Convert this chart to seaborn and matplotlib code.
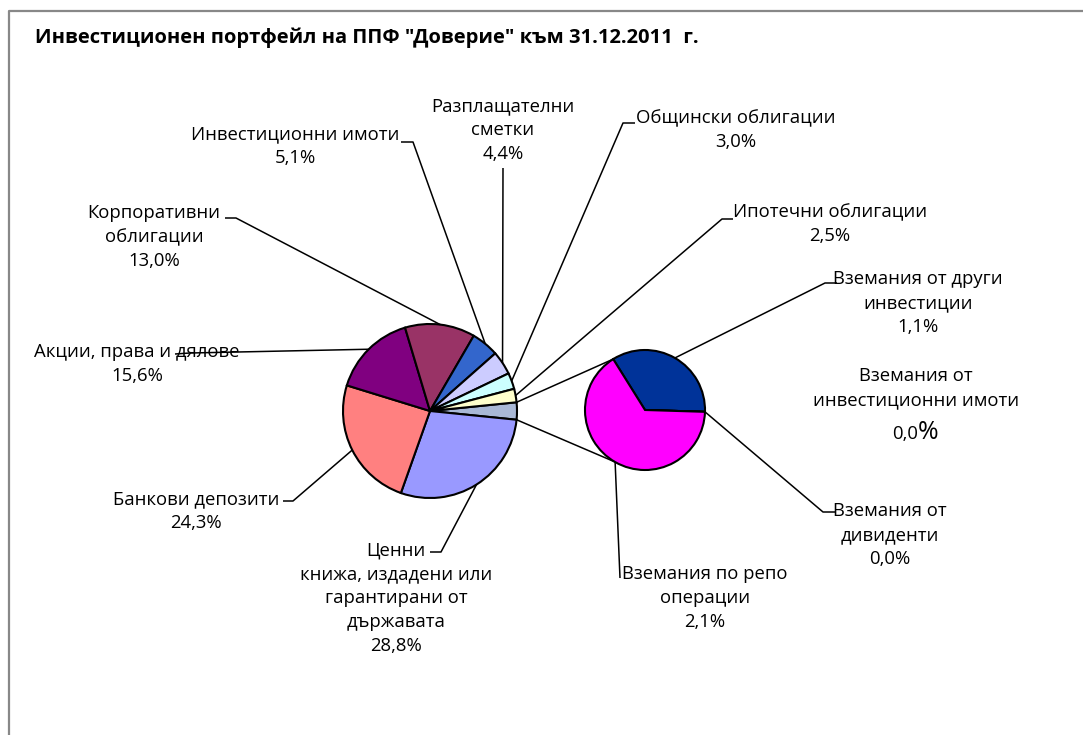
import numpy as np
import matplotlib
matplotlib.use("Agg")
import matplotlib.pyplot as plt
import seaborn as sns

# данни
main_labels = ["Ценни\nкнижа, издадени или\nгарантирани от\nдържавата",
               "Банкови депозити", "Акции, права и дялове",
               "Корпоративни\nоблигации", "Инвестиционни имоти",
               "Разплащателни\nсметки", "Общински облигации",
               "Ипотечни облигации"]
main_values = [28.8, 24.3, 15.6, 13.0, 5.1, 4.4, 3.0, 2.5]
main_colors = ["#9999FF", "#FF8080", "#800080", "#993366", "#3366CC",
               "#CCCCFF", "#CCFFFF", "#FFFFCC"]
other_color = "#A9B8D6"

sub_labels = ["Вземания от други\nинвестиции", "Вземания от\nдивиденти",
              "Вземания от\nинвестиционни имоти", "Вземания по репо\nоперации"]
sub_values = [1.1, 0.0, 0.0, 2.1]
sub_colors = ["#003399", "#FFFFFF", "#FFFFFF", "#FF00FF"]

title = 'Инвестиционен портфейл на ППФ "Доверие" към 31.12.2011  г.'

W, H = 1083, 735
fy = lambda y: H - y  # картинни координати -> оста

sns.set_theme(style="white")
plt.rcParams['font.family'] = ['Open Sans', 'DejaVu Sans']

fig = plt.figure(figsize=(W / 100, H / 100), dpi=100)
ax = fig.add_axes([0, 0, 1, 1])

other = sum(sub_values)
wedge_kw = dict(edgecolor="black", linewidth=1.5)
main_w, _ = ax.pie([other] + main_values, colors=[other_color] + main_colors,
                   startangle=other / 100 * 360 / 2, counterclock=False,
                   center=(430, fy(411)), radius=87, frame=True,
                   wedgeprops=wedge_kw)
sub_start = 122
sub_w, _ = ax.pie(sub_values, colors=sub_colors, startangle=sub_start,
                  counterclock=False, center=(645, fy(410)), radius=60,
                  frame=True, wedgeprops=wedge_kw)


def rim(w, ang=None):
    if ang is None:
        ang = (w.theta1 + w.theta2) / 2
    cx, cy = w.center
    a = np.deg2rad(ang)
    return cx + w.r * np.cos(a), cy + w.r * np.sin(a)


line_kw = dict(color="black", lw=1.1, solid_capstyle="butt")

# свързващи линии между двете кръгчета
ow = main_w[0]
p1 = rim(ow, ow.theta2)
p2 = rim(ow, ow.theta1)
q1 = rim(sub_w[0], sub_start)
q2 = rim(sub_w[0], -120)
ax.plot([p1[0], q1[0]], [p1[1], q1[1]], **line_kw)
ax.plot([p2[0], q2[0]], [p2[1], q2[1]], **line_kw)

# водещи линии (картинни координати на пречупването и края)
main_leaders = [[(441, 552), (430, 552)],
                [(293, 501), (283, 501)],
                [(190, 353), (175, 354)],
                [(236, 218), (225, 218)],
                [(413, 142), (401, 142)],
                [(503, 168)],
                [(623, 123), (635, 123)],
                [(722, 219), (733, 219)]]
sub_leaders = [[(825, 283), (837, 283)],
               [(823, 512), (835, 512)],
               None,
               [(620, 578)]]

for w, pts in zip(main_w[1:], main_leaders):
    x0, y0 = rim(w)
    xs = [x0] + [p[0] for p in pts]
    ys = [y0] + [fy(p[1]) for p in pts]
    ax.plot(xs, ys, **line_kw)
for w, pts in zip(sub_w, sub_leaders):
    if pts is None:
        continue
    x0, y0 = rim(w)
    xs = [x0] + [p[0] for p in pts]
    ys = [y0] + [fy(p[1]) for p in pts]
    ax.plot(xs, ys, **line_kw)

# етикети
fs = 13.3
ls = 1.42
main_pos = [(396, 598), (196, 511), (137, 364), (154, 237), (295, 146),
            (503, 130), (736, 130), (830, 224)]
for lab, v, (x, y) in zip(main_labels, main_values, main_pos):
    ax.text(x, fy(y), f"{lab}\n{v:.1f}%".replace(".", ","), ha="center",
            va="center", fontsize=fs, linespacing=ls, color="black")

sub_pos = [(918, 303), (890, 535), (916, 388), (705, 598)]
for i, (lab, v, (x, y)) in enumerate(zip(sub_labels, sub_values, sub_pos)):
    if i == 2:
        ax.text(x, fy(y), lab, ha="center", va="center", fontsize=fs,
                linespacing=ls, color="black")
        ax.text(918, fy(434), f"{v:.1f}".replace(".", ","), ha="right",
                va="center", fontsize=fs, color="black")
        ax.text(918, fy(432), "%", ha="left", va="center",
                fontsize=fs * 1.35, color="black")
        continue
    ax.text(x, fy(y), f"{lab}\n{v:.1f}%".replace(".", ","), ha="center",
            va="center", fontsize=fs, linespacing=ls, color="black")

ax.text(35, fy(38), title, ha="left", va="center", fontsize=14.5,
        fontweight="bold", color="black")

# рамка
ax.plot([9, 9, W], [0, fy(11), fy(11)], color="#888888", lw=1.6)

ax.set_xlim(0, W)
ax.set_ylim(0, H)
ax.set_aspect("equal")
ax.axis("off")

fig.savefig("out.png", dpi=100, facecolor="white")
